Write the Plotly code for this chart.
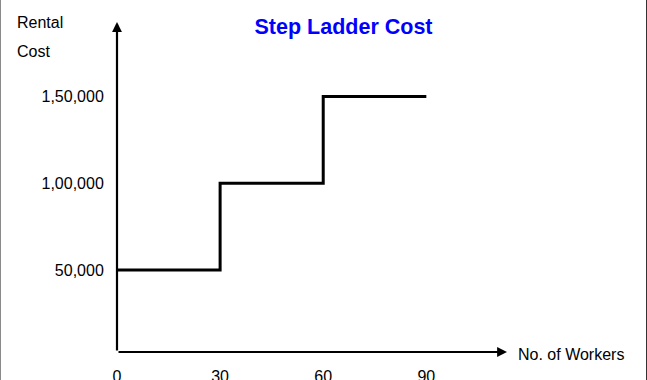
import plotly.graph_objects as go

# Data
workers = [0, 30, 60, 90]
rental_cost = [50000, 100000, 150000, 150000]
x_tick_vals = [0, 30, 60, 90]
x_tick_text = ["0", "30", "60", "90"]
y_tick_vals = [50000, 100000, 150000]
y_tick_text = ["50,000", "1,00,000", "1,50,000"]

FONT = "Arial, Liberation Sans, sans-serif"

L, R, T, B = 117, 140, 22, 28
W, H = 647, 380
pw = W - L - R
ph = H - T - B

def px_x(px):
    return (px - L) / pw

def px_y(py):
    return (H - B - py) / ph

fig = go.Figure()
fig.add_trace(go.Scatter(
    x=workers, y=rental_cost, mode="lines", line_shape="hv",
    line=dict(color="black", width=3), showlegend=False, hoverinfo="skip",
    cliponaxis=False,
))

fig.update_layout(
    width=W, height=H,
    margin=dict(l=L, r=R, t=T, b=B, pad=0, autoexpand=False),
    paper_bgcolor="white", plot_bgcolor="white",
    font=dict(family=FONT, size=16, color="black"),
    title=dict(text="<b>Step Ladder Cost</b>", font=dict(family=FONT, size=21.5, color="#0000FF"),
               x=343.5 / W, xanchor="center", xref="container",
               y=1 - 26 / H, yanchor="middle", yref="container"),
    xaxis=dict(range=[0, pw / 3.437], showgrid=False, zeroline=False, showline=False,
               automargin=False,
               tickvals=x_tick_vals, ticktext=x_tick_text, ticks="outside", ticklen=10,
               tickcolor="rgba(0,0,0,0)", tickfont=dict(family=FONT, size=16)),
    yaxis=dict(range=[2700, 193000], showgrid=False, zeroline=False, showline=False,
               automargin=False,
               tickvals=y_tick_vals, ticktext=y_tick_text, ticks="outside", ticklen=9,
               tickcolor="rgba(0,0,0,0)", tickfont=dict(family=FONT, size=16)),
)

# axes with arrows
fig.add_annotation(x=px_x(507), y=0, xref="paper", yref="paper",
                   ax=-(507 - L), ay=0, axref="pixel", ayref="pixel", standoff=0,
                   showarrow=True, arrowhead=2, arrowsize=0.9, arrowwidth=2.2,
                   arrowcolor="black", text="")
fig.add_annotation(x=0, y=1, xref="paper", yref="paper",
                   ax=0, ay=ph, axref="pixel", ayref="pixel", standoff=0,
                   showarrow=True, arrowhead=2, arrowsize=0.9, arrowwidth=2.2,
                   arrowcolor="black", text="")

fig.add_annotation(x=px_x(15), y=px_y(22.5), xref="paper", yref="paper", text="Rental",
                   showarrow=False, xanchor="left", yanchor="middle", font=dict(size=16))
fig.add_annotation(x=px_x(15), y=px_y(51.5), xref="paper", yref="paper", text="Cost",
                   showarrow=False, xanchor="left", yanchor="middle", font=dict(size=16))
fig.add_annotation(x=px_x(516), y=px_y(354.5), xref="paper", yref="paper", text="No. of Workers",
                   showarrow=False, xanchor="left", yanchor="middle", font=dict(size=16))

# border lines
fig.add_shape(type="line", xref="paper", yref="paper", x0=px_x(0.5), x1=px_x(0.5),
              y0=px_y(0), y1=px_y(380), line=dict(color="#8a8a8a", width=1))
fig.add_shape(type="line", xref="paper", yref="paper", x0=px_x(646.5), x1=px_x(646.5),
              y0=px_y(0), y1=px_y(380), line=dict(color="#333333", width=1))

fig.write_html("out.html", config={"displayModeBar": False},
               post_script="document.body.style.margin='0';document.body.style.overflow='hidden';")
